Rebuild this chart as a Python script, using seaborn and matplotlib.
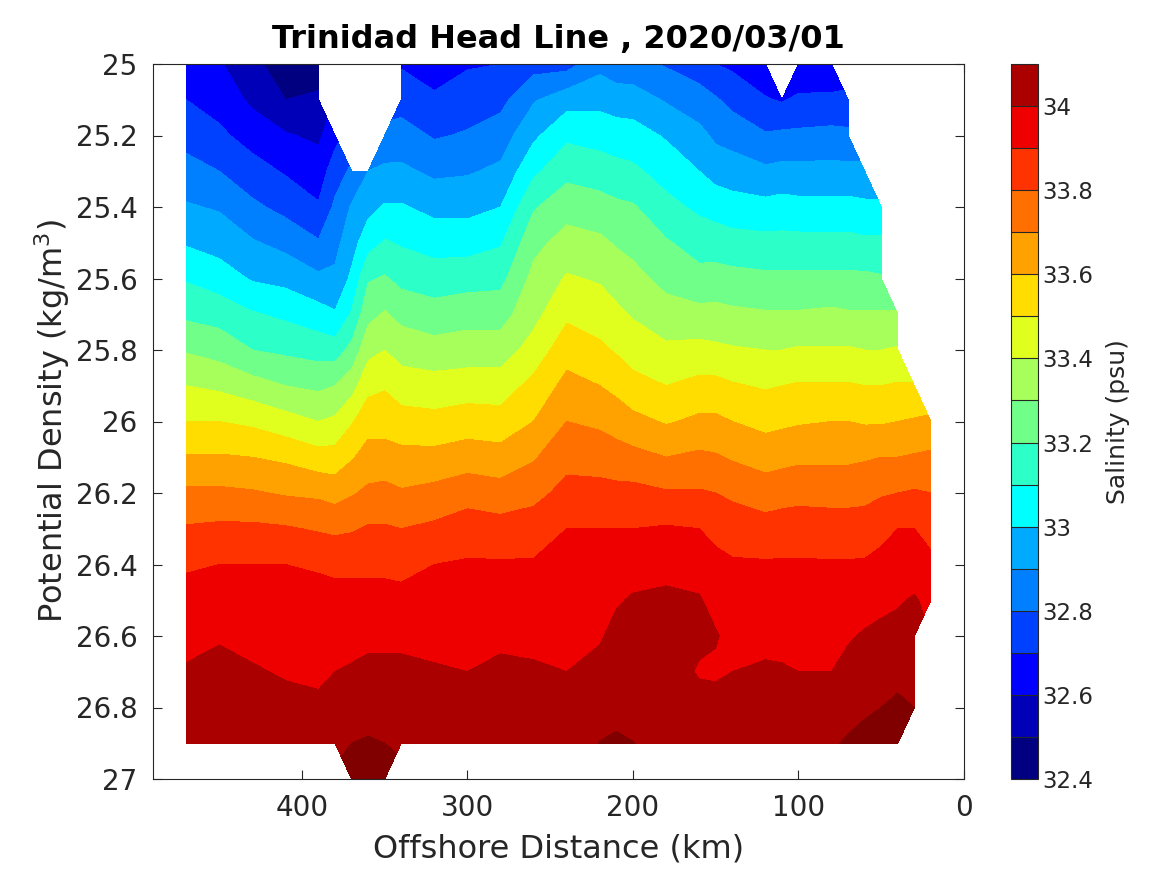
import numpy as np
import seaborn as sns
import matplotlib.pyplot as plt
from matplotlib.cm import ScalarMappable
from matplotlib.colors import BoundaryNorm, ListedColormap

nan = np.nan

# potential density levels (kg/m3), one row per level
density = [25.0, 25.1, 25.2, 25.3, 25.4, 25.5, 25.6, 25.7, 25.8, 25.9, 26.0,
           26.1, 26.2, 26.3, 26.4, 26.5, 26.6, 26.7, 26.8, 26.9, 27.0]

# offshore distance of each column (km)
distance = [470, 450, 430, 410, 390, 380, 370, 360, 350, 340, 320, 300, 280, 260, 240, 220,
            210, 200, 180, 160, 150, 140, 120, 110, 100, 80, 70, 60, 50, 40, 30, 20]

# salinity (psu) per station
sal_470 = [32.63, 32.70, 32.76, 32.84, 32.91, 32.99, 33.09, 33.18, 33.29, 33.40, 33.50, 33.61, 33.72, 33.81, 33.89, 33.93, 33.97, 34.01, 34.04, 34.06, nan]
sal_450 = [32.61, 32.66, 32.72, 32.80, 32.89, 32.96, 33.05, 33.16, 33.26, 33.38, 33.50, 33.61, 33.72, 33.82, 33.90, 33.95, 33.99, 34.03, 34.06, 34.08, nan]
sal_430 = [32.53, 32.58, 32.66, 32.74, 32.82, 32.91, 32.99, 33.11, 33.20, 33.34, 33.48, 33.60, 33.71, 33.82, 33.90, 33.94, 33.97, 34.01, 34.05, 34.07, nan]
sal_410 = [32.44, 32.50, 32.61, 32.69, 32.77, 32.87, 32.97, 33.08, 33.18, 33.30, 33.44, 33.58, 33.69, 33.81, 33.90, 33.93, 33.96, 33.99, 34.03, 34.05, nan]
sal_390 = [32.44, 32.52, 32.58, 32.65, 32.71, 32.81, 32.92, 33.04, 33.16, 33.28, 33.40, 33.54, 33.68, 33.79, 33.89, 33.93, 33.95, 33.98, 34.02, 34.05, nan]
sal_380 = [nan, nan, 32.67, 32.75, 32.82, 32.87, 32.92, 33.01, 33.15, 33.30, 33.42, 33.54, 33.66, 33.78, 33.88, 33.93, 33.96, 34.00, 34.04, 34.07, nan]
sal_370 = [nan, nan, nan, 32.82, 32.91, 32.96, 33.02, 33.11, 33.23, 33.36, 33.49, 33.59, 33.69, 33.79, 33.88, 33.93, 33.97, 34.01, 34.06, 34.10, 34.15]
sal_360 = [nan, nan, nan, 32.90, 32.97, 33.06, 33.19, 33.27, 33.37, 33.47, 33.56, 33.64, 33.72, 33.81, 33.88, 33.93, 33.98, 34.02, 34.06, 34.11, 34.16]
sal_350 = [nan, nan, 32.83, 32.92, 33.01, 33.11, 33.21, 33.31, 33.40, 33.49, 33.56, 33.64, 33.73, 33.81, 33.88, 33.93, 33.98, 34.02, 34.06, 34.10, 34.15]
sal_340 = [32.69, 32.76, 32.84, 32.92, 33.01, 33.09, 33.17, 33.27, 33.36, 33.45, 33.54, 33.63, 33.71, 33.80, 33.87, 33.93, 33.98, 34.02, 34.05, 34.08, nan]
sal_320 = [32.64, 32.72, 32.79, 32.88, 32.97, 33.06, 33.15, 33.24, 33.34, 33.44, 33.53, 33.63, 33.73, 33.82, 33.90, 33.94, 33.97, 34.01, 34.04, 34.06, nan]
sal_300 = [32.69, 32.75, 32.81, 32.89, 32.97, 33.06, 33.16, 33.26, 33.35, 33.45, 33.55, 33.65, 33.76, 33.85, 33.91, 33.94, 33.97, 34.00, 34.03, 34.06, nan]
sal_280 = [32.70, 32.77, 32.85, 32.92, 33.00, 33.09, 33.17, 33.26, 33.35, 33.45, 33.54, 33.64, 33.74, 33.84, 33.91, 33.94, 33.98, 34.02, 34.05, 34.07, nan]
sal_260 = [32.76, 32.89, 32.98, 33.08, 33.19, 33.27, 33.33, 33.37, 33.44, 33.53, 33.60, 33.69, 33.77, 33.85, 33.91, 33.94, 33.98, 34.01, 34.04, 34.07, nan]
sal_240 = [32.76, 32.96, 33.08, 33.17, 33.26, 33.34, 33.41, 33.48, 33.56, 33.63, 33.70, 33.77, 33.83, 33.90, 33.92, 33.95, 33.97, 34.00, 34.03, 34.06, nan]
sal_220 = [32.87, 32.97, 33.06, 33.15, 33.24, 33.32, 33.39, 33.45, 33.52, 33.60, 33.68, 33.76, 33.83, 33.90, 33.93, 33.96, 33.99, 34.03, 34.07, 34.102, nan]
sal_210 = [32.84, 32.95, 33.05, 33.13, 33.22, 33.29, 33.36, 33.42, 33.49, 33.57, 33.66, 33.74, 33.83, 33.90, 33.94, 33.99, 34.03, 34.06, 34.08, 34.11, nan]
sal_200 = [32.83, 32.95, 33.04, 33.12, 33.21, 33.27, 33.33, 33.39, 33.46, 33.53, 33.63, 33.73, 33.83, 33.90, 33.96, 34.01, 34.04, 34.06, 34.08, 34.101, nan]
sal_180 = [32.79, 32.89, 32.99, 33.06, 33.13, 33.21, 33.27, 33.34, 33.42, 33.50, 33.59, 33.70, 33.81, 33.91, 33.97, 34.02, 34.04, 34.05, 34.07, 34.08, nan]
sal_160 = [32.75, 32.84, 32.93, 33.00, 33.08, 33.16, 33.23, 33.33, 33.43, 33.53, 33.62, 33.72, 33.81, 33.90, 33.95, 34.01, 34.02, 33.99, 34.04, 34.07, nan]
sal_150 = [32.70, 32.81, 32.88, 32.96, 33.06, 33.15, 33.24, 33.33, 33.42, 33.53, 33.62, 33.71, 33.80, 33.88, 33.92, 33.96, 34.01, 33.98, 34.05, 34.07, nan]
sal_140 = [32.68, 32.77, 32.86, 32.95, 33.04, 33.14, 33.23, 33.32, 33.41, 33.51, 33.60, 33.69, 33.78, 33.86, 33.91, 33.94, 33.96, 34.00, 34.05, 34.07, nan]
sal_120 = [32.61, 32.71, 32.81, 32.92, 33.03, 33.13, 33.22, 33.31, 33.40, 33.49, 33.57, 33.66, 33.75, 33.84, 33.91, 33.94, 33.98, 34.01, 34.05, 34.07, nan]
sal_110 = [nan, 32.69, 32.82, 32.93, 33.04, 33.13, 33.22, 33.31, 33.40, 33.50, 33.58, 33.67, 33.76, 33.85, 33.91, 33.94, 33.97, 34.01, 34.05, 34.07, nan]
sal_100 = [32.61, 32.72, 32.82, 32.93, 33.03, 33.13, 33.22, 33.31, 33.41, 33.51, 33.59, 33.68, 33.77, 33.85, 33.91, 33.94, 33.97, 34.00, 34.03, 34.06, nan]
sal_080 = [32.62, 32.72, 32.83, 32.93, 33.03, 33.13, 33.22, 33.32, 33.41, 33.51, 33.60, 33.68, 33.77, 33.84, 33.91, 33.94, 33.97, 34.00, 34.05, 34.09, nan]
sal_070 = [nan, 32.73, 32.82, 32.93, 33.03, 33.13, 33.22, 33.31, 33.41, 33.51, 33.60, 33.68, 33.77, 33.84, 33.91, 33.95, 33.99, 34.03, 34.07, 34.11, nan]
sal_060 = [nan, nan, nan, 32.93, 33.02, 33.12, 33.22, 33.31, 33.40, 33.50, 33.59, 33.69, 33.77, 33.85, 33.91, 33.96, 34.01, 34.05, 34.09, 34.12, nan]
sal_050 = [nan, nan, nan, nan, 33.02, 33.12, 33.21, 33.31, 33.40, 33.50, 33.59, 33.70, 33.79, 33.87, 33.93, 33.98, 34.02, 34.06, 34.10, 34.13, nan]
sal_040 = [nan, nan, nan, nan, nan, nan, nan, 33.31, 33.41, 33.51, 33.60, 33.70, 33.80, 33.90, 33.94, 33.99, 34.03, 34.07, 34.12, 34.16, nan]
sal_030 = [nan, nan, nan, nan, nan, nan, nan, nan, nan, 33.51, 33.61, 33.71, 33.81, 33.90, 33.95, 34.01, 34.04, 34.07, 34.10, nan, nan]
sal_020 = [nan, nan, nan, nan, nan, nan, nan, nan, nan, nan, 33.62, 33.72, 33.80, 33.87, 33.92, 33.97, nan, nan, nan, nan, nan]

levels = [32.4, 32.5, 32.6, 32.7, 32.8, 32.9, 33.0, 33.1, 33.2, 33.3, 33.4,
          33.5, 33.6, 33.7, 33.8, 33.9, 34.0, 34.1]
cbar_ticks = [32.4, 32.6, 32.8, 33.0, 33.2, 33.4, 33.6, 33.8, 34.0]
cbar_labels = ['32.4', '32.6', '32.8', '33', '33.2', '33.4', '33.6', '33.8', '34']
x_ticks = [400, 300, 200, 100, 0]
y_ticks = [25, 25.2, 25.4, 25.6, 25.8, 26, 26.2, 26.4, 26.6, 26.8, 27]
y_labels = ['25', '25.2', '25.4', '25.6', '25.8', '26', '26.2', '26.4', '26.6', '26.8', '27']

band_colors = ['#000080', '#0000b8', '#0000ff', '#0040ff', '#0080ff', '#00aaff', '#00ffff', '#2dffc8', '#70ff88',
               '#a6ff5a', '#e0ff1e', '#ffdd00', '#ffa200', '#ff7000', '#ff3300', '#ef0000', '#aa0000']

sns.set_theme(style='ticks', rc={'font.family': 'DejaVu Sans'})

salinity = np.column_stack([sal_470, sal_450, sal_430, sal_410, sal_390, sal_380, sal_370, sal_360, sal_350, sal_340,
                            sal_320, sal_300, sal_280, sal_260, sal_240, sal_220, sal_210, sal_200, sal_180, sal_160,
                            sal_150, sal_140, sal_120, sal_110, sal_100, sal_080, sal_070, sal_060, sal_050, sal_040,
                            sal_030, sal_020])

cmap = ListedColormap(sns.color_palette(band_colors))
cmap.set_over('#800000')
norm = BoundaryNorm(levels, cmap.N)

fig = plt.figure(figsize=(11.67, 8.75), dpi=100)
ax = fig.add_axes([153 / 1167, 1 - 779 / 875, 811 / 1167, 715 / 875])
cax = fig.add_axes([1011 / 1167, 1 - 779 / 875, 27 / 1167, 715 / 875])

ax.contourf(distance, density, np.ma.masked_invalid(salinity), levels=levels, cmap=cmap, norm=norm, extend='max')

ax.set_xlim(490, 0)
ax.set_ylim(27, 25)
ax.set_xticks(x_ticks)
ax.set_yticks(y_ticks)
ax.set_yticklabels(y_labels)
ax.tick_params(direction='in', length=6.2, width=0.8, color='#262626', labelcolor='#262626', labelsize=20,
               top=True, right=True, pad=11)
for side in ax.spines.values():
    side.set_linewidth(0.8)
    side.set_color('#262626')

ax.set_xlabel('Offshore Distance (km)', fontsize=23, color='#262626', labelpad=8)
ax.set_ylabel('Potential Density (kg/m$^3$)', fontsize=23, color='#262626', labelpad=3)
ax.set_title('Trinidad Head Line , 2020/03/01', fontsize=23, fontweight='bold', color='black', pad=11.8)

cbar = fig.colorbar(ScalarMappable(norm=norm, cmap=cmap), cax=cax, drawedges=True, spacing='proportional')
cbar.set_ticks(cbar_ticks)
cbar.set_ticklabels(cbar_labels)
cbar.minorticks_off()
cbar.ax.tick_params(length=0, labelsize=16.5, labelcolor='#262626', pad=3)
cbar.dividers.set_color('#262626')
cbar.dividers.set_linewidth(0.8)
cbar.outline.set_edgecolor('#262626')
cbar.outline.set_linewidth(0.8)
cbar.set_label('Salinity (psu)', fontsize=18, color='#262626', labelpad=9)

fig.savefig('out.png', dpi=100)
